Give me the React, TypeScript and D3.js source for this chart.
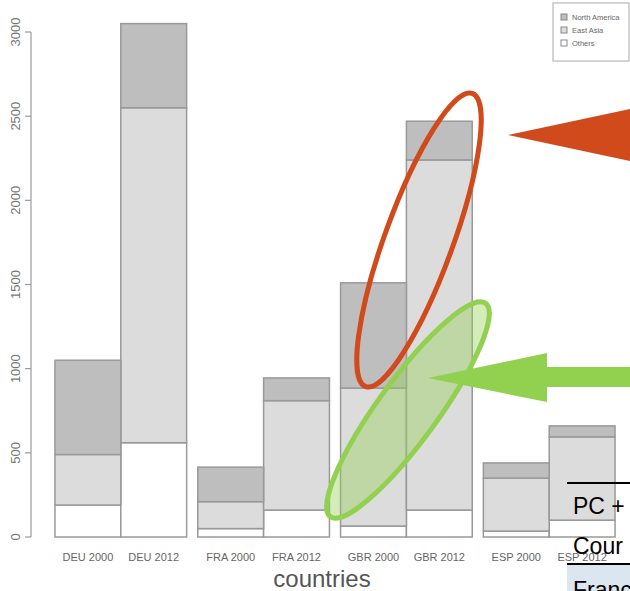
import React from "react";
import * as d3 from "d3";

const countries = ["DEU", "FRA", "GBR", "ESP"];
const years = ["2000", "2012"];
// order: DEU2000, DEU2012, FRA2000, FRA2012, GBR2000, GBR2012, ESP2000, ESP2012
const others = [190, 560, 50, 160, 65, 160, 35, 100];
const eastAsia = [300, 1990, 160, 650, 820, 2080, 315, 495];
const northAmerica = [560, 500, 205, 135, 625, 230, 90, 65];
const yTicks = [0, 500, 1000, 1500, 2000, 2500, 3000];
const legendLabels = ["North America", "East Asia", "Others"];
const seriesKeys = ["others", "eastAsia", "northAmerica"];
const seriesColors: Record<string, string> = {
  others: "#ffffff",
  eastAsia: "#dcdcdc",
  northAmerica: "#bebebe",
};

type Row = { country: string; year: string; others: number; eastAsia: number; northAmerica: number };

const rows: Row[] = [];
countries.forEach((c, ci) =>
  years.forEach((yr, yi) => {
    const i = ci * 2 + yi;
    rows.push({ country: c, year: yr, others: others[i], eastAsia: eastAsia[i], northAmerica: northAmerica[i] });
  })
);

export default function App() {
  const W = 630;
  const H = 591;
  const y = d3.scaleLinear().domain([0, 3000]).range([537, 32]);
  const xg = d3.scaleBand().domain(countries).range([49.4, 620.6]).paddingInner(0.078).paddingOuter(0.039);
  const xi = d3.scaleBand().domain(years).range([0, xg.bandwidth()]).padding(0);
  const stack = d3.stack<Row>().keys(seriesKeys);
  const series = stack(rows);
  const font = "Liberation Sans, Arial, sans-serif";
  const narrow = "Liberation Sans Narrow, Liberation Sans, Arial, sans-serif";

  return (
    <svg width={W} height={H} style={{ position: "absolute", left: 0, top: 0, background: "#fff" }}>
      {/* y axis */}
      <line x1={31} x2={31} y1={y(0)} y2={y(3000)} stroke="#9a9a9a" strokeWidth={1.2} />
      {yTicks.map((t) => (
        <g key={t}>
          <line x1={25} x2={31} y1={y(t)} y2={y(t)} stroke="#9a9a9a" strokeWidth={1.2} />
          <text
            transform={`translate(15,${y(t)}) rotate(-90)`}
            textAnchor="middle"
            dominantBaseline="central"
            fontFamily={font}
            fontSize={13}
            fill="#777"
          >
            {t}
          </text>
        </g>
      ))}
      {/* bars */}
      {series.map((s) => (
        <g key={s.key}>
          {s.map((d, i) => {
            const r = rows[i];
            const x0 = (xg(r.country) as number) + (xi(r.year) as number);
            return (
              <rect
                key={i}
                x={x0}
                y={y(d[1])}
                width={xi.bandwidth()}
                height={y(d[0]) - y(d[1])}
                fill={seriesColors[s.key]}
                stroke="#999"
                strokeWidth={1.5}
              />
            );
          })}
        </g>
      ))}
      {/* x labels */}
      {rows.map((r, i) => (
        <text
          key={i}
          x={(xg(r.country) as number) + (xi(r.year) as number) + xi.bandwidth() / 2}
          y={561}
          textAnchor="middle"
          fontFamily={narrow}
          fontSize={11}
          fill="#666"
        >
          {r.country + " " + r.year}
        </text>
      ))}
      <text x={322} y={587} textAnchor="middle" fontFamily={narrow} fontSize={24} fill="#555">
        countries
      </text>
      {/* legend */}
      <rect x={553} y={3} width={76} height={58} fill="#fff" stroke="#aaa" strokeWidth={1} />
      {legendLabels.map((l, i) => {
        const key = seriesKeys[2 - i];
        return (
          <g key={l}>
            <rect x={561} y={14 + i * 13} width={6} height={6} fill={seriesColors[key]} stroke="#888" strokeWidth={1} />
            <text x={572} y={20 + i * 13} fontFamily={narrow} fontSize={7.5} fill="#666">
              {l}
            </text>
          </g>
        );
      })}
      {/* red annotation */}
      <ellipse
        cx={419}
        cy={240}
        rx={34}
        ry={156}
        transform="rotate(20 419 240)"
        fill="none"
        stroke="#d04a1c"
        strokeWidth={5}
      />
      <polygon points="508,135 640,107 640,163" fill="#d04a1c" />
      {/* green annotation */}
      <ellipse
        cx={408}
        cy={410}
        rx={30}
        ry={132}
        transform="rotate(36 408 410)"
        fill="rgba(146,208,80,0.4)"
        stroke="#92d050"
        strokeWidth={5}
      />
      <polygon points="428,378 547,353 547,367 640,367 640,387 547,387 547,402" fill="#92d050" />
      {/* table fragment */}
      <rect x={567} y={563} width={70} height={30} fill="#dce6f1" />
      <line x1={567} x2={630} y1={483} y2={483} stroke="#000" strokeWidth={2} />
      <line x1={567} x2={630} y1={564} y2={564} stroke="#000" strokeWidth={2} />
      <text x={573} y={514} fontFamily={narrow} fontSize={23} fill="#000">
        PC +
      </text>
      <text x={573} y={554} fontFamily={narrow} fontSize={23} fill="#000">
        Cour
      </text>
      <text x={573} y={598} fontFamily={narrow} fontSize={23} fill="#000">
        Franc
      </text>
    </svg>
  );
}
